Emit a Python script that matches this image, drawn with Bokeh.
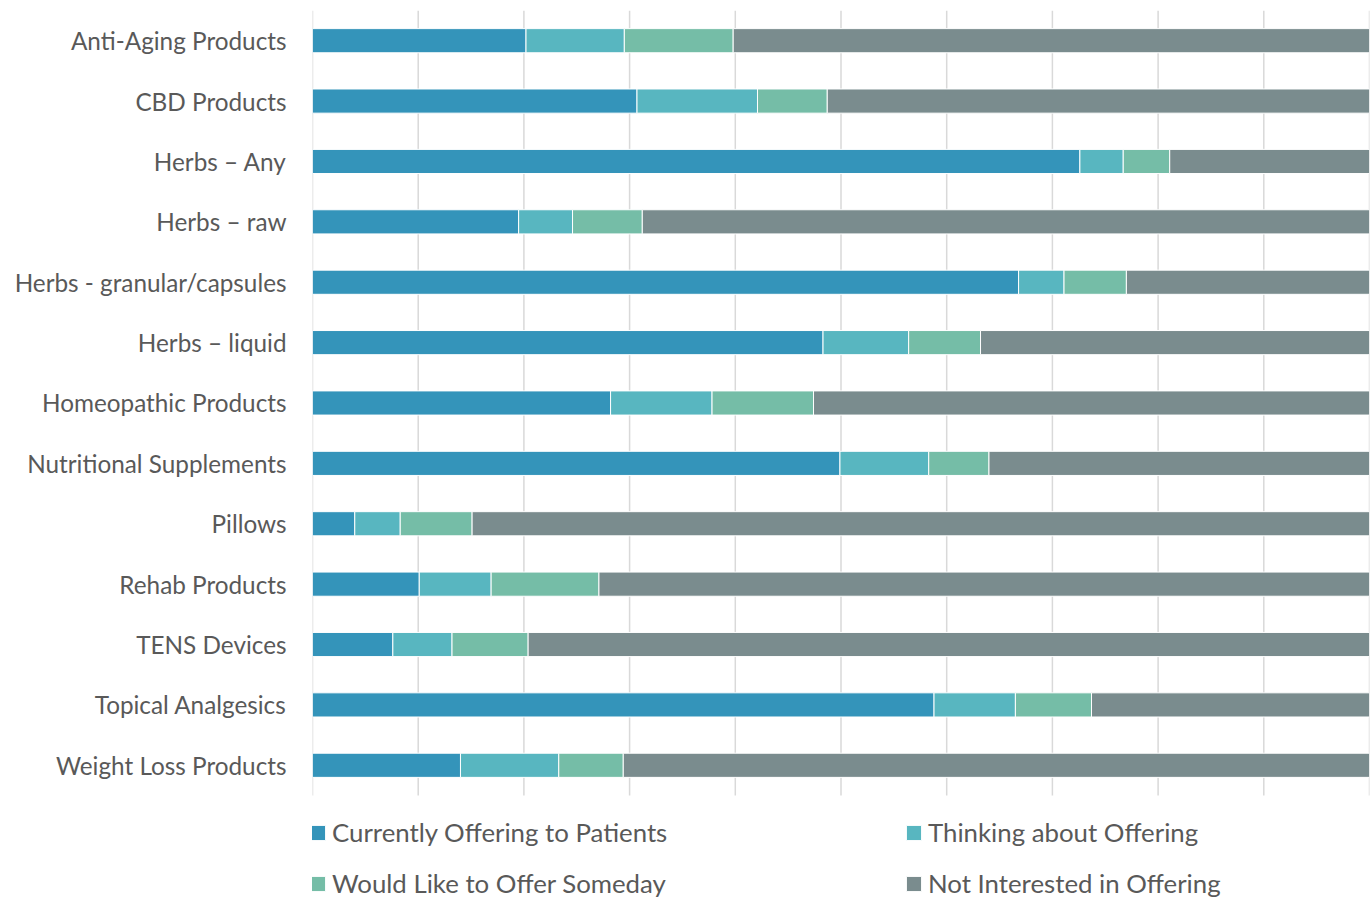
from bokeh.plotting import figure
from bokeh.models import ColumnDataSource, Range1d, Legend, LegendItem, FixedTicker
from bokeh.embed import file_html
from bokeh.resources import INLINE

# Product categories (top to bottom) and response shares in percent
products = [
    "Anti-Aging Products", "CBD Products", "Herbs \u2013 Any", "Herbs \u2013 raw",
    "Herbs - granular/capsules", "Herbs \u2013 liquid", "Homeopathic Products",
    "Nutritional Supplements", "Pillows", "Rehab Products", "TENS Devices",
    "Topical Analgesics", "Weight Loss Products",
]
currently_offering = [20.2, 30.7, 72.6, 19.5, 66.8, 48.3, 28.2, 49.9, 4.0, 10.1, 7.6, 58.8, 14.0]
thinking_about = [9.3, 11.4, 4.1, 5.1, 4.3, 8.1, 9.6, 8.4, 4.3, 6.8, 5.6, 7.7, 9.3]
would_like = [10.3, 6.6, 4.4, 6.6, 5.9, 6.8, 9.6, 5.7, 6.8, 10.2, 7.2, 7.2, 6.1]
not_interested = [round(100 - a - b - c, 1) for a, b, c in zip(currently_offering, thinking_about, would_like)]

series_names = [
    "Currently Offering to Patients", "Thinking about Offering",
    "Would Like to Offer Someday", "Not Interested in Offering",
]
series_keys = ["current", "thinking", "would", "not"]
colors = ["#3494BA", "#58B6C0", "#75BDA7", "#7A8C8E"]
x_gridlines = [0, 10, 20, 30, 40, 50, 60, 70, 80, 90, 100]

n = len(products)
rows = list(range(n))
source = ColumnDataSource(dict(
    row=rows,
    current=currently_offering,
    thinking=thinking_about,
    would=would_like,
    **{"not": not_interested},
))

FONT = "Lato"
TEXT_COLOR = "#595959"

# Rows run top-down; extra room under the last row holds the legend
legend_room = 1.706
p = figure(
    width=1371, height=898,
    x_range=Range1d(0, 100),
    y_range=Range1d(n - 0.5 + legend_room, -0.5),
    output_backend="svg", toolbar_location=None,
    min_border_left=312, min_border_right=2, min_border_top=10, min_border_bottom=0,
)

# Vertical gridlines spanning the bar rows only
p.segment(
    x0=x_gridlines, x1=x_gridlines,
    y0=[-0.5] * len(x_gridlines), y1=[n - 0.5] * len(x_gridlines),
    line_color="#D9D9D9", line_width=1.5,
)

renderers = p.hbar_stack(
    series_keys, y="row", height=0.4, color=colors,
    line_color="white", line_width=1, source=source,
)

p.xaxis.visible = False
p.grid.visible = False
p.outline_line_color = None

p.yaxis.ticker = FixedTicker(ticks=rows)
p.yaxis.major_label_overrides = {i: name for i, name in zip(rows, products)}
p.yaxis.axis_line_color = None
p.yaxis.major_tick_line_color = None
p.yaxis.minor_tick_line_color = None
p.yaxis.major_label_standoff = 20
p.yaxis.major_label_text_font = FONT
p.yaxis.major_label_text_font_size = "24.3px"
p.yaxis.major_label_text_color = TEXT_COLOR

# Two-column legend under the bars, filled row by row
order = [0, 2, 1, 3]
legend = Legend(
    items=[LegendItem(label=series_names[i], renderers=[renderers[i]]) for i in order],
    ncols=2, location=(-4, 0),
    glyph_width=19, glyph_height=19, label_standoff=5,
    label_height=30, label_width=551, spacing=21,
    padding=0, margin=0,
    label_text_font=FONT, label_text_font_size="25.8px", label_text_color=TEXT_COLOR,
    border_line_color=None, background_fill_alpha=0,
)
p.add_layout(legend)

open("out.html", "w").write(file_html(p, INLINE))
